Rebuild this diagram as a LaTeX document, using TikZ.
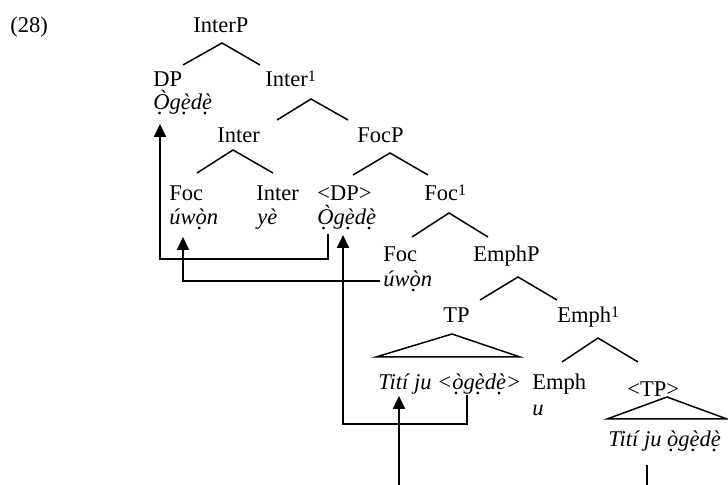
\documentclass[tikz,border=0pt]{standalone}
\usepackage{fontspec}
\setmainfont{Liberation Serif}
\usetikzlibrary{arrows.meta}
% dot placed under a (grave-accented) vowel
\newcommand\db[1]{\leavevmode\setbox0=\hbox{#1}\rlap{\hbox to\wd0{\hss\raisebox{-0.42ex}{.}\kern0.12em\hss}}\box0}
\newcommand\ogede{\db{Ò}g\db{è}d\db{è}}
\newcommand\lcogede{\db{ò}g\db{è}d\db{è}}
\newcommand\uwon{úw\db{ò}n}
% small raised bar-level index
\newcommand\barone{\raisebox{2.5pt}{\fontsize{8}{9}\selectfont 1}}
\begin{document}
\begin{tikzpicture}[x=0.5pt,y=-0.5pt,
  lbl/.style={anchor=base west,inner sep=0pt,font=\fontsize{11.25}{13}\selectfont},
  branch/.style={line width=0.75pt},
  mv/.style={line width=1pt,-{Triangle[width=6pt,length=6.5pt]}},
  mvline/.style={line width=1pt}]
\useasboundingbox (0,0) rectangle (728,485);

% labels
\node[lbl] (ex) at (10,33) {(28)};
\node[lbl] (interP) at (193,33) {InterP};
\node[lbl] (dp) at (153,87) {DP};
\node[lbl] (dpO) at (153,110) {\itshape\ogede};
\node[lbl] (interBar) at (265,87) {Inter\barone};
\node[lbl] (inter) at (217,143) {Inter};
\node[lbl] (focP) at (357,143) {FocP};
\node[lbl] (foc) at (169,201) {Foc};
\node[lbl] (focW) at (169,225) {\itshape\uwon};
\node[lbl] (interH) at (256,201) {Inter};
\node[lbl] (ye) at (257,225) {\itshape yè};
\node[lbl] (dpT) at (317,201) {<DP>};
\node[lbl] (dpTO) at (317,225) {\itshape\ogede};
\node[lbl] (focBar) at (424,201) {Foc\barone};
\node[lbl] (focH) at (383,262) {Foc};
\node[lbl] (focHW) at (383,287) {\itshape\uwon};
\node[lbl] (emphP) at (473,262) {EmphP};
\node[lbl] (tp) at (443,323) {TP};
\node[lbl] (emphBar) at (557,323) {Emph\barone};
\node[lbl] (tpS) at (378,390) {\itshape Tití ju <\lcogede>};
\node[lbl] (emph) at (532,390) {Emph};
\node[lbl] (emphU) at (532,416) {\itshape u};
\node[lbl] (tpT) at (627,397) {<TP>};
\node[lbl] (tpTS) at (608,447) {\itshape Tití ju \lcogede};

% branch points
\coordinate (a1) at (222,43);  \coordinate (a1l) at (183,65);  \coordinate (a1r) at (260,65);
\coordinate (a2) at (311,99);  \coordinate (a2l) at (277,120); \coordinate (a2r) at (348,120);
\coordinate (a3) at (233,150); \coordinate (a3l) at (197,173); \coordinate (a3r) at (273,173);
\coordinate (a4) at (390,153); \coordinate (a4l) at (353,175); \coordinate (a4r) at (428,175);
\coordinate (a5) at (449,213); \coordinate (a5l) at (412,237); \coordinate (a5r) at (488,237);
\coordinate (a6) at (518,277); \coordinate (a6l) at (480,300); \coordinate (a6r) at (557,300);
\coordinate (a7) at (598,338); \coordinate (a7l) at (562,362); \coordinate (a7r) at (638,362);
\coordinate (t1) at (452,334); \coordinate (t1l) at (376,357); \coordinate (t1r) at (520,357);
\coordinate (t2) at (667,397); \coordinate (t2l) at (607,419); \coordinate (t2r) at (727,419);

\draw[branch] (a1l) -- (a1) -- (a1r);
\draw[branch] (a2l) -- (a2) -- (a2r);
\draw[branch] (a3l) -- (a3) -- (a3r);
\draw[branch] (a4l) -- (a4) -- (a4r);
\draw[branch] (a5l) -- (a5) -- (a5r);
\draw[branch] (a6l) -- (a6) -- (a6r);
\draw[branch] (a7l) -- (a7) -- (a7r);
\draw[branch] (t1) -- (t1l) -- (t1r) -- cycle;
\draw[branch] (t2) -- (t2l) -- (t2r) -- cycle;

% movement paths
\coordinate (m1s) at (467,395); \coordinate (m1a) at (467,424); \coordinate (m1b) at (343,424); \coordinate (m1e) at (343,235);
\coordinate (m2s) at (328,234); \coordinate (m2a) at (328,259); \coordinate (m2b) at (160,259); \coordinate (m2e) at (160,124);
\coordinate (m3s) at (380,281); \coordinate (m3a) at (183,281); \coordinate (m3e) at (183,237);
\coordinate (m4s) at (399,485); \coordinate (m4e) at (399,396);
\coordinate (m5s) at (647,465); \coordinate (m5e) at (647,485);

\draw[mv] (m1s) -- (m1a) -- (m1b) -- (m1e);
\draw[mv] (m2s) -- (m2a) -- (m2b) -- (m2e);
\draw[mv] (m3s) -- (m3a) -- (m3e);
\draw[mv,line width=1.2pt] (m4s) -- (m4e);
\draw[mvline] (m5s) -- (m5e);
\end{tikzpicture}
\end{document}
